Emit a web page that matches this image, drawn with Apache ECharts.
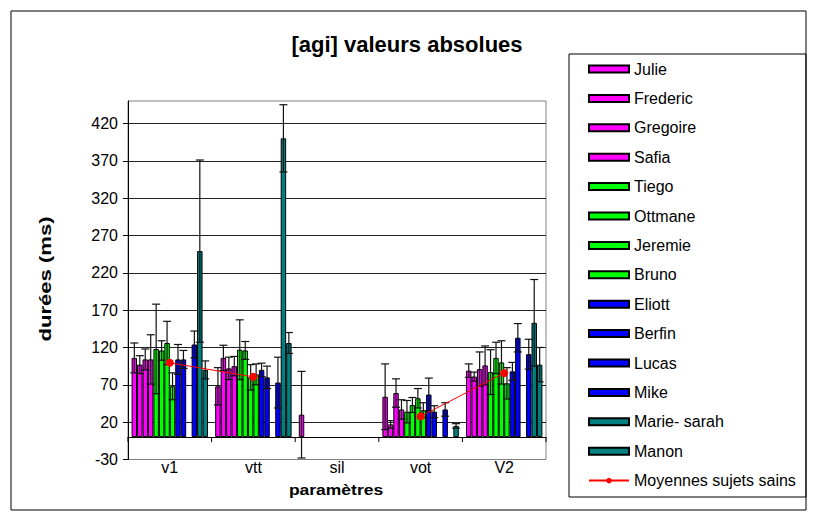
<!DOCTYPE html>
<html><head><meta charset="utf-8">
<script src="https://cdn.jsdelivr.net/npm/echarts@6/dist/echarts.min.js"></script>
<style>html,body{margin:0;padding:0;background:#fff}#c{width:817px;height:519px}</style>
</head><body><div id="c"></div>
<script>
// ---- data ----
const categories = ['v1', 'vtt', 'sil', 'vot', 'V2'];
const seriesNames = ['Julie','Frederic','Gregoire','Safia','Tiego','Ottmane','Jeremie','Bruno','Eliott','Berfin','Lucas','Mike','Marie- sarah','Manon'];
const julie      = [106,  68,   30,   54,   89];
const frederic   = [ 97, 106, null,   17,   81];
const gregoire   = [104,  92, null,   59,   91];
const safia      = [104,  95, null,   37,   96];
const tiego      = [118, 117, null,   34,   87];
const ottmane    = [116, 116, null,   43,  106];
const jeremie    = [126,  80, null,   52,  100];
const bruno      = [ 68,  84, null,   36,   72];
const eliott     = [104,  90, null,   57,   88];
const berfin     = [104,  80, null,   34,  133];
const lucas      = [null, null, null, null, null];
const mike       = [124,  73, null,   37,  111];
const marieSarah = [249, 400, null, null,  153];
const manon      = [ 90, 126, null,   15,   97];
// half-widths of the error bars
const julieErr      = [20, 25,   58, 44,  9];
const fredericErr   = [12, 17, null,  5,  6];
const gregoireErr   = [14, 15, null, 19, 23];
const safiaErr      = [33, 13, null, 13, 26];
const tiegoErr      = [60, 40, null, 15, 30];
const ottmaneErr    = [13, 12, null, 10, 21];
const jeremieErr    = [29, 17, null, 13, 29];
const brunoErr      = [18, 14, null, 10, 21];
const eliottErr     = [20,  9, null, 22, 12];
const berfinErr     = [12, 15, null,  8, 19];
const lucasErr      = [null, null, null, null, null];
const mikeErr       = [18, 34, null,  9, 20];
const marieSarahErr = [122, 45, null, null, 58];
const manonErr      = [12, 14, null,  3, 23];
const moyennes = [99.5, 80.6, null, 27.7, 85.8];
const moyName = 'Moyennes sujets sains';
const yTicks = { min: -30, max: 450, interval: 50 };

// ---- styles ----
const MAG = '#FF00FF', GRN = '#00FF00', BLU = '#0000FF', TEAL = '#008080';
const colors = [MAG, MAG, MAG, MAG, GRN, GRN, GRN, GRN, BLU, BLU, BLU, BLU, TEAL, TEAL];
const values = [julie, frederic, gregoire, safia, tiego, ottmane, jeremie, bruno, eliott, berfin, lucas, mike, marieSarah, manon];
const errors = [julieErr, fredericErr, gregoireErr, safiaErr, tiegoErr, ottmaneErr, jeremieErr, brunoErr, eliottErr, berfinErr, lucasErr, mikeErr, marieSarahErr, manonErr];
const FONT = "'Liberation Sans', Arial, sans-serif";
const CAT_GAP = 0.086;
const N = seriesNames.length;

const errData = [];
values.forEach((arr, si) => arr.forEach((v, ci) => {
  const e = errors[si][ci];
  if (v != null && e != null) errData.push([ci, v - e, v + e, si]);
}));

const barSeries = seriesNames.map((name, i) => ({
  type: 'bar', name, data: values[i],
  barGap: '0%', barCategoryGap: (CAT_GAP * 100) + '%',
  itemStyle: { color: colors[i], borderColor: '#000', borderWidth: 1 },
  emphasis: { disabled: true }, animation: false, z: 2
}));

const errSeries = {
  type: 'custom', name: 'errors', data: errData, encode: { x: 0, y: [1, 2] },
  z: 3, silent: true, animation: false,
  renderItem: (params, api) => {
    const ci = api.value(0), lo = api.value(1), hi = api.value(2), si = api.value(3);
    const band = api.size([1, 0])[0];
    const bw = band * (1 - CAT_GAP) / N;
    const cx = api.coord([ci, 0])[0] + (si - (N - 1) / 2) * bw;
    const yLo = api.coord([ci, lo])[1], yHi = api.coord([ci, hi])[1];
    const cap = 4;
    const st = { stroke: '#111', lineWidth: 1.2 };
    return { type: 'group', children: [
      { type: 'line', shape: { x1: cx, y1: yLo, x2: cx, y2: yHi }, style: st },
      { type: 'line', shape: { x1: cx - cap, y1: yHi, x2: cx + cap, y2: yHi }, style: st },
      { type: 'line', shape: { x1: cx - cap, y1: yLo, x2: cx + cap, y2: yLo }, style: st }
    ]};
  }
};

// category-boundary tick marks on the zero line
const tickSeries = {
  type: 'custom', name: 'ticks', data: categories.map((c, i) => [i, 0]), encode: { x: 0, y: 1 },
  z: 4, silent: true, animation: false, clip: false,
  renderItem: (params, api) => {
    const ci = api.value(0);
    const band = api.size([1, 0])[0];
    const p = api.coord([ci, 0]);
    const st = { stroke: '#000', lineWidth: 1 };
    const kids = [{ type: 'line', shape: { x1: p[0] - band / 2, y1: p[1], x2: p[0] - band / 2, y2: p[1] + 5 }, style: st }];
    if (ci === categories.length - 1) kids.push({ type: 'line', shape: { x1: p[0] + band / 2, y1: p[1], x2: p[0] + band / 2, y2: p[1] + 5 }, style: st });
    return { type: 'group', children: kids };
  }
};

const lineSeries = {
  type: 'line', name: moyName, data: moyennes, connectNulls: false,
  color: '#FF0000', symbol: 'circle', symbolSize: 8, showSymbol: true,
  lineStyle: { color: '#FF0000', width: 1 }, itemStyle: { color: '#FF0000' },
  z: 10, animation: false, emphasis: { disabled: true }
};

const chart = echarts.init(document.getElementById('c'), null, { renderer: 'svg' });
chart.setOption({
  animation: false,
  backgroundColor: '#fff',
  textStyle: { fontFamily: FONT },
  grid: { left: 128, right: 271, top: 101, bottom: 59.5, show: true, borderColor: '#808080', borderWidth: 1, containLabel: false, outerBoundsMode: 'none' },
  legend: {
    orient: 'vertical', left: 588, top: 61, padding: 0,
    itemWidth: 40, itemHeight: 7, itemGap: 13.4,
    textStyle: { fontSize: 16, lineHeight: 16, color: '#000', fontFamily: FONT },
    data: seriesNames.map(n => ({ name: n, icon: 'rect' })).concat([{ name: moyName }]),
    selectedMode: false
  },
  xAxis: {
    type: 'category', data: categories,
    axisLine: { onZero: true, lineStyle: { color: '#000', width: 1 } },
    axisTick: { show: false },
    axisLabel: { margin: 0, fontSize: 16, color: '#000', fontFamily: FONT },
    splitLine: { show: false }
  },
  yAxis: {
    type: 'value', min: yTicks.min, max: yTicks.max, interval: yTicks.interval,
    axisLine: { show: true, lineStyle: { color: '#000', width: 1 } },
    axisTick: { show: true, length: 5, lineStyle: { color: '#000' } },
    axisLabel: { fontSize: 16, margin: 10, color: '#000', showMaxLabel: false, fontFamily: FONT },
    splitLine: { show: true, showMinLine: false, showMaxLine: false, lineStyle: { color: '#222', width: 1 } }
  },
  graphic: [
    { type: 'rect', shape: { x: 11, y: 11, width: 795, height: 499 }, style: { fill: 'none', stroke: '#000', lineWidth: 1 }, z: -1 },
    { type: 'rect', shape: { x: 569, y: 54, width: 237, height: 443 }, style: { fill: 'none', stroke: '#000', lineWidth: 1 }, z: -1 },
    { type: 'text', x: 407, y: 44, style: { text: '[agi] valeurs absolues', fontSize: 22, fontWeight: 'bold', fontFamily: FONT, fill: '#000', align: 'center', verticalAlign: 'middle', textAlign: 'center', textVerticalAlign: 'middle' } },
    { type: 'text', x: 45, y: 279, rotation: Math.PI / 2, scaleX: 1.3, style: { text: 'durées (ms)', fontSize: 17, fontWeight: 'bold', fontFamily: FONT, fill: '#000', align: 'center', verticalAlign: 'middle', textAlign: 'center', textVerticalAlign: 'middle' } },
    { type: 'text', x: 336, y: 490, scaleX: 1.25, style: { text: 'paramètres', fontSize: 14, fontWeight: 'bold', fontFamily: FONT, fill: '#000', align: 'center', verticalAlign: 'middle', textAlign: 'center', textVerticalAlign: 'middle' } }
  ],
  series: barSeries.concat([errSeries, tickSeries, lineSeries])
});
</script></body></html>
